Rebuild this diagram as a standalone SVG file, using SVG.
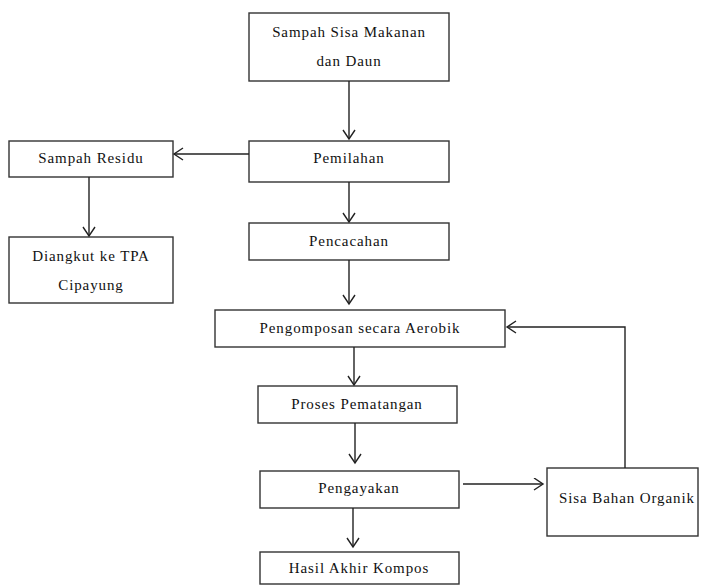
<svg xmlns="http://www.w3.org/2000/svg" width="708" height="588" viewBox="0 0 708 588">
<defs>
<marker id="ah" markerUnits="userSpaceOnUse" markerWidth="14" markerHeight="14" refX="10" refY="6.5" orient="auto">
<path d="M1,0.5 L10,6.5 L1,12.5" fill="none" stroke="#222" stroke-width="1.4"/>
</marker>
<style>
rect{fill:#fff;stroke:#333;stroke-width:1.4}
text{font-family:"Liberation Serif","Times New Roman",serif;font-size:15px;fill:#111;text-anchor:middle;letter-spacing:0.9px}
#connectors line,#connectors polyline{stroke:#222;stroke-width:1.4;fill:none}
</style>
</defs>
<rect x="0" y="0" width="708" height="588" style="fill:#fff;stroke:none"/>
<g id="n1"><rect x="249" y="13" width="200" height="68"/><text x="349" y="37">Sampah Sisa Makanan</text><text x="349" y="66">dan Daun</text></g>
<g id="n2"><rect x="249" y="141" width="200" height="41"/><text x="349" y="163">Pemilahan</text></g>
<g id="n3"><rect x="249" y="223" width="200" height="37"/><text x="349" y="246">Pencacahan</text></g>
<g id="n4"><rect x="215" y="310" width="290" height="37"/><text x="360" y="333">Pengomposan secara Aerobik</text></g>
<g id="n5"><rect x="258" y="386" width="199" height="37"/><text x="357" y="409">Proses Pematangan</text></g>
<g id="n6"><rect x="260" y="471" width="199" height="37"/><text x="359" y="493">Pengayakan</text></g>
<g id="n7"><rect x="260" y="552" width="199" height="32"/><text x="359" y="573">Hasil Akhir Kompos</text></g>
<g id="n8"><rect x="547" y="468" width="151" height="68"/><text x="627" y="503">Sisa Bahan Organik</text></g>
<g id="n9"><rect x="9" y="141" width="164" height="36"/><text x="91" y="163">Sampah Residu</text></g>
<g id="n10"><rect x="9" y="237" width="164" height="66"/><text x="91" y="261">Diangkut ke TPA</text><text x="91" y="290">Cipayung</text></g>
<g id="connectors">
<line x1="349" y1="81" x2="349" y2="139" marker-end="url(#ah)"/>
<line x1="249" y1="154" x2="174" y2="154" marker-end="url(#ah)"/>
<line x1="89" y1="177" x2="89" y2="236" marker-end="url(#ah)"/>
<line x1="349" y1="182" x2="349" y2="222" marker-end="url(#ah)"/>
<line x1="349" y1="260" x2="349" y2="304" marker-end="url(#ah)"/>
<line x1="354" y1="347" x2="354" y2="385" marker-end="url(#ah)"/>
<line x1="355" y1="423" x2="355" y2="463" marker-end="url(#ah)"/>
<line x1="463" y1="484" x2="543" y2="484" marker-end="url(#ah)"/>
<line x1="353" y1="508" x2="353" y2="547" marker-end="url(#ah)"/>
<polyline points="625,468 625,327 507,327" marker-end="url(#ah)"/>
</g>
</svg>
